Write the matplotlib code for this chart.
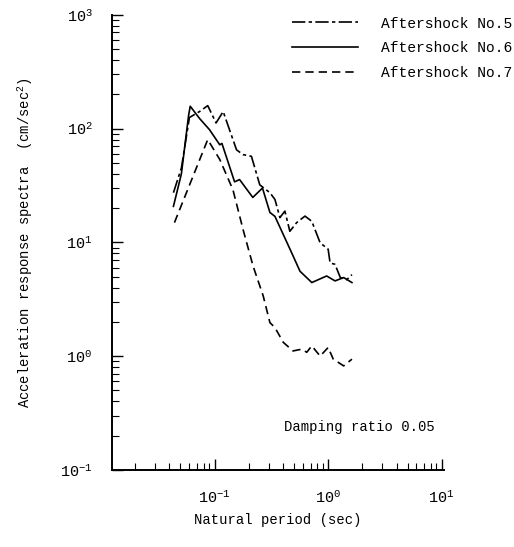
import math

import matplotlib
matplotlib.use("Agg")
import matplotlib.pyplot as plt
from matplotlib.ticker import LogLocator, FuncFormatter, NullFormatter

plt.rcParams["font.family"] = ["Liberation Mono", "DejaVu Sans Mono"]
plt.rcParams["mathtext.fontset"] = "custom"
plt.rcParams["mathtext.rm"] = "Liberation Mono"
plt.rcParams["mathtext.it"] = "Liberation Mono"

# Aftershock No.5 (dash-dot)
period_5 = [0.0434, 0.051, 0.060, 0.0736, 0.087, 0.103, 0.119, 0.156, 0.178, 0.211,
            0.25, 0.307, 0.34, 0.376, 0.416, 0.46, 0.528, 0.625, 0.718, 0.85,
            1.0, 1.04, 1.15, 1.28, 1.46, 1.62]
accel_5 = [27.3, 45, 125, 141, 159, 112, 141, 65, 59, 57,
           32, 27.3, 23.8, 16.5, 18.8, 12.5, 14.9, 17.0, 15.3, 9.9,
           8.7, 6.6, 6.4, 4.9, 4.7, 5.2]

# Aftershock No.6 (solid)
period_6 = [0.0434, 0.051, 0.059, 0.061, 0.074, 0.090, 0.111, 0.116, 0.150, 0.166,
            0.217, 0.264, 0.307, 0.34, 0.477, 0.565, 0.718, 0.97, 1.15, 1.37, 1.62]
accel_6 = [20.7, 40, 130, 157, 122, 98, 72, 74, 34, 35.6,
           24.8, 30, 18.3, 16.9, 8.1, 5.57, 4.43, 5.06, 4.58, 4.9, 4.43]

# Aftershock No.7 (dashed)
period_7 = [0.0443, 0.087, 0.111, 0.145, 0.178, 0.218, 0.268, 0.307, 0.34, 0.403,
            0.49, 0.585, 0.648, 0.718, 0.85, 1.0, 1.11, 1.37, 1.62]
accel_7 = [14.9, 80, 53.5, 29, 13, 6.2, 3.38, 1.97, 1.78, 1.32,
           1.11, 1.15, 1.08, 1.23, 1.0, 1.19, 0.94, 0.82, 0.94]

fig = plt.figure(figsize=(5.14, 5.47), dpi=100)
ax = fig.add_axes([0.218, 0.141, 0.646, 0.832])

ax.plot(period_5, accel_5, color="black", lw=1.2, dashes=[8, 2, 2, 2],
        label="Aftershock No.5")
ax.plot(period_6, accel_6, color="black", lw=1.2, label="Aftershock No.6")
ax.plot(period_7, accel_7, color="black", lw=1.2, dashes=[5, 3],
        label="Aftershock No.7")

ax.set_xscale("log")
ax.set_yscale("log")
ax.set_xlim(0.0125, 10.5)
ax.set_ylim(0.1, 1000)

for side in ["top", "right"]:
    ax.spines[side].set_visible(False)
ax.spines["left"].set_linewidth(1.4)
ax.spines["bottom"].set_linewidth(1.4)

fmt = FuncFormatter(lambda v, p: r"$10^{%d}$" % round(math.log10(v)))
ax.xaxis.set_major_locator(LogLocator(base=10, numticks=10))
ax.yaxis.set_major_locator(LogLocator(base=10, numticks=10))
ax.xaxis.set_major_formatter(fmt)
ax.yaxis.set_major_formatter(fmt)
ax.xaxis.set_minor_formatter(NullFormatter())
ax.yaxis.set_minor_formatter(NullFormatter())
ax.tick_params(which="major", direction="in", length=8, width=1.0,
               labelsize=11, pad=14)
ax.tick_params(which="minor", direction="in", length=5, width=0.8)

ax.set_xlabel("Natural period (sec)", fontsize=10, labelpad=5)
ax.set_ylabel(r"Acceleration response spectra  (cm/sec$^2$)", fontsize=10,
              labelpad=18)

ax.text(0.745, 0.095, "Damping ratio 0.05", transform=ax.transAxes,
        ha="center", va="center", fontsize=10)

leg = ax.legend(loc="upper right", bbox_to_anchor=(1.245, 1.025), frameon=False,
                fontsize=10.5, handlelength=4.5, handletextpad=1.6,
                labelspacing=0.75)

fig.savefig("out.png", dpi=100, facecolor="white")
